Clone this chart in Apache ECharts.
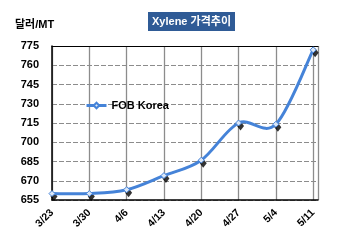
<!DOCTYPE html>
<html><head><meta charset="utf-8">
<script src="https://cdn.jsdelivr.net/npm/echarts@6/dist/echarts.min.js"></script>
<style>html,body{margin:0;padding:0;background:#fff}#c{width:350px;height:244px}</style>
</head><body><div id="c"></div>
<script>
var categories = ['3/23','3/30','4/6','4/13','4/20','4/27','5/4','5/11'];
var fobKorea = [660, 660, 663, 674, 686, 715, 714, 772];
var yTicks = [655, 670, 685, 700, 715, 730, 745, 760, 775];
var seriesName = 'FOB Korea';

var FONT = '"Liberation Sans", Arial, "Noto Sans CJK KR", sans-serif';
var BLUE = '#4583D8';
var yBase = yTicks[0];
var yStep = yTicks[1] - yTicks[0];
var yTop = yTicks[yTicks.length - 1];
var pts = fobKorea.map(function (v, i) { return [i, v - yBase]; });

// Excel-style smoothed curve drawn through the data points (mapped by the axes)
function renderCurve(params, api) {
  if (params.dataIndex !== 0) return {type: 'group', children: []};
  var c = pts.map(function (p) { return api.coord(p); });
  var n = c.length, d = 'M' + c[0][0] + ' ' + c[0][1];
  var k = 1 / 6;
  for (var i = 0; i < n - 1; i++) {
    var p0 = c[Math.max(i - 1, 0)], p1 = c[i], p2 = c[i + 1], p3 = c[Math.min(i + 2, n - 1)];
    var c1x = p1[0] + (p2[0] - p0[0]) * k, c1y = p1[1] + (p2[1] - p0[1]) * k;
    var c2x = p2[0] - (p3[0] - p1[0]) * k, c2y = p2[1] - (p3[1] - p1[1]) * k;
    d += ' C' + c1x + ' ' + c1y + ' ' + c2x + ' ' + c2y + ' ' + p2[0] + ' ' + p2[1];
  }
  return {type: 'path', shape: {pathData: d}, style: {fill: null, stroke: BLUE, lineWidth: 3, lineCap: 'round', lineJoin: 'round'}};
}

var chart = echarts.init(document.getElementById('c'), null, {renderer: 'canvas'});
chart.setOption({
  animation: false,
  title: {
    text: 'Xylene 가격추이', left: 148, top: 12,
    backgroundColor: '#2F5B96', padding: [4, 4, 4, 4],
    textStyle: {color: '#fff', fontSize: 11, fontWeight: 'bold', fontFamily: FONT}
  },
  graphic: [{
    type: 'text', left: 15, top: 19,
    style: {text: '달러/MT', fill: '#000', font: 'bold 11px ' + FONT}
  }],
  legend: {
    data: [{name: seriesName, lineStyle: {color: BLUE, width: 3, opacity: 1}}],
    left: 80, top: 95, itemWidth: 20, itemHeight: 7, itemGap: 4,
    textStyle: {color: '#000', fontSize: 11, fontWeight: 'bold', fontFamily: FONT}
  },
  grid: {left: 52, right: 32, top: 46, bottom: 44, containLabel: false},
  xAxis: [{
    type: 'value', min: 0, max: categories.length - 1 + 0.13, interval: 1,
    axisLine: {onZero: false, lineStyle: {color: '#000', width: 1.5}},
    axisTick: {show: false},
    axisLabel: {
      rotate: 45, margin: 11, color: '#000', fontSize: 10.5, fontWeight: 'bold', fontFamily: FONT,
      formatter: function (v) { return Math.abs(v - Math.round(v)) < 1e-6 ? (categories[Math.round(v)] || '') : ''; }
    },
    splitLine: {show: true, lineStyle: {color: '#8c8c8c', width: 1.3}}
  }, {
    type: 'value', position: 'top', min: 0, max: categories.length - 1 + 0.13,
    axisLine: {show: true, onZero: false, lineStyle: {color: '#000', width: 1}},
    axisTick: {show: false}, axisLabel: {show: false}, splitLine: {show: false}
  }],
  yAxis: {
    type: 'value', min: 0, max: yTop - yBase, interval: yStep,
    axisLine: {show: true, onZero: false, lineStyle: {color: '#000', width: 1.5}},
    axisTick: {show: false},
    axisLabel: {
      margin: 13, color: '#000', fontSize: 11, fontWeight: 'bold', fontFamily: FONT,
      formatter: function (v) { return String(v + yBase); }
    },
    splitLine: {show: true, lineStyle: {color: '#8c8c8c', width: 1, type: [5, 2]}}
  },
  series: [{
    name: 'shadow', type: 'scatter', data: pts, symbol: 'diamond', symbolSize: [7, 9],
    symbolOffset: [2, 3], itemStyle: {color: '#000'}, z: 2, silent: true
  }, {
    name: 'curve', type: 'custom', data: pts, renderItem: renderCurve, z: 3, silent: true, clip: true
  }, {
    name: seriesName, type: 'line', data: pts,
    symbol: 'diamond', symbolSize: 6, showAllSymbol: true,
    lineStyle: {color: BLUE, width: 3, opacity: 0},
    itemStyle: {color: '#DCE8F8', borderColor: BLUE, borderWidth: 1},
    z: 4
  }]
});
</script></body></html>
